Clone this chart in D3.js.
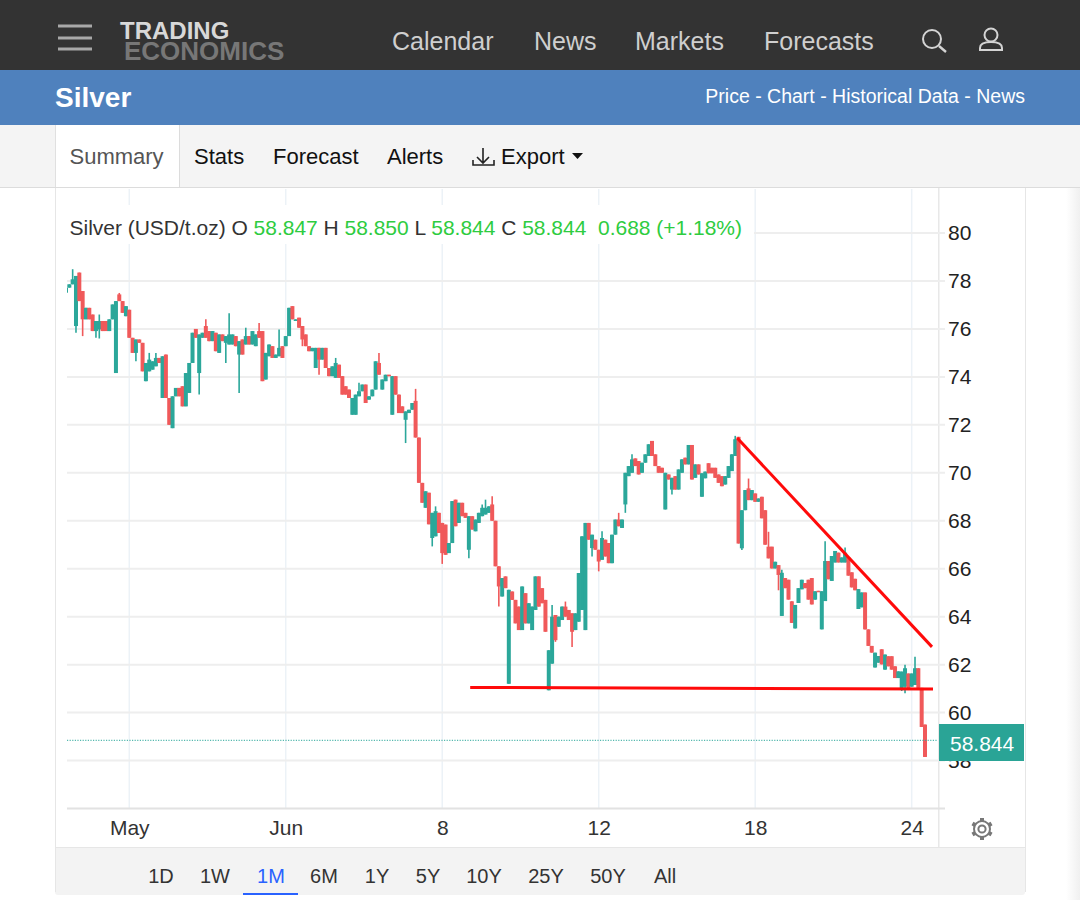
<!DOCTYPE html>
<html>
<head>
<meta charset="utf-8">
<style>
    html, body { margin: 0; padding: 0; background: #fff; }
    svg { display: block; font-family: "Liberation Sans", Arial, sans-serif; }
    text { white-space: pre; }
</style>
</head>
<body>
<svg id="chart" width="1080" height="900"></svg>
<script src="https://d3js.org/d3.v7.min.js"></script>
<script>
    // values, one entry per bar
    var opens = [
        77.51,77.72,77.86,76.12,78.35,77.58,76.4,76.88,76.6,75.91,
        75.98,76.33,76.33,75.91,76.4,74.16,77.44,77.16,76.53,76.8,
        75.63,75.0,75.56,75.42,73.82,74.23,74.3,74.44,74.79,73.12,
        74.93,73.12,71.86,73.19,73.54,73.61,72.77,73.33,74.58,76.0,
        74.16,75.63,76.12,75.91,75.49,75.84,75.0,75.77,75.42,75.35,
        75.35,75.7,74.93,75.56,75.35,75.7,75.35,75.28,75.91,75.91,
        73.89,74.86,75.28,74.79,74.86,75.28,75.28,75.7,76.95,76.33,
        76.47,76.12,75.77,75.28,75.07,74.37,75.21,74.72,75.21,74.37,
        74.03,73.96,74.51,74.03,73.61,73.47,72.42,72.42,73.19,73.4,
        73.68,73.05,73.19,73.47,74.58,73.47,73.82,74.09,72.42,74.03,
        73.26,72.77,72.21,72.49,72.63,73.0,71.47,69.58,68.54,69.17,
        67.28,67.35,68.33,67.91,67.84,66.65,67.07,68.88,67.91,68.75,
        68.33,66.79,68.19,67.56,67.91,68.19,68.26,68.33,68.68,68.0,
        66.1,64.84,65.68,61.2,65.05,64.7,64.42,63.44,64.98,63.72,
        63.44,64.28,65.68,65.19,64.7,60.93,62.04,64.07,63.58,63.86,
        64.42,64.28,64.14,63.44,63.79,64.28,63.44,67.91,66.86,67.21,
        66.79,66.37,67.21,67.07,66.23,67.42,68.05,67.7,68.68,69.86,
        70.0,70.6,70.49,70.0,70.42,70.7,71.33,70.77,70.28,70.21,
        68.47,69.93,69.3,69.86,69.3,70.0,70.63,70.35,71.16,69.79,
        70.35,69.0,69.77,70.4,70.21,70.21,69.93,69.86,69.51,69.79,
        70.07,70.7,71.5,66.85,68.44,69.35,68.86,69.14,68.79,69.0,
        68.44,66.92,66.92,66.01,66.15,64.03,65.61,65.54,64.64,63.51,
        64.57,65.14,65.4,65.54,65.61,64.71,65.08,63.47,64.65,66.32,
        65.49,66.26,66.67,66.26,66.26,66.47,65.85,65.58,64.32,64.39,
        65.01,63.47,62.78,61.88,62.08,62.64,61.79,62.35,62.35,61.93,
        61.44,60.96,61.08,61.63,61.08,61.15,61.85,61.03,59.5
    ];
    var closes = [
        77.72,77.86,78.07,78.21,77.16,76.4,76.88,76.4,75.91,76.33,
        76.33,75.91,75.91,76.4,77.02,77.16,77.16,76.67,76.95,75.63,
        75.0,75.56,75.42,74.23,74.58,74.72,74.65,74.79,74.58,74.86,
        73.12,72.0,73.19,73.54,73.19,72.77,74.16,74.58,75.84,75.63,
        75.77,75.84,75.63,75.49,75.91,75.07,75.77,75.49,75.7,75.77,
        75.77,75.28,75.49,74.93,75.7,75.35,75.91,75.77,75.63,73.82,
        75.0,75.35,74.79,74.93,75.21,74.79,75.7,76.88,76.4,76.4,
        76.05,75.56,75.28,75.07,75.21,75.21,74.72,75.21,74.37,74.03,
        74.44,74.58,73.96,73.26,73.26,73.12,73.12,73.26,73.4,73.68,
        72.91,73.19,73.47,74.65,74.09,73.89,74.09,74.03,74.03,73.26,
        72.49,72.49,72.56,72.63,72.91,71.47,69.58,68.75,69.23,67.85,
        68.33,68.4,67.49,66.65,66.58,67.07,68.82,67.77,68.75,68.19,
        68.12,68.19,67.63,68.05,68.33,68.54,68.54,68.6,68.0,66.1,
        65.26,65.61,65.19,65.12,64.7,63.72,63.44,65.26,63.72,64.56,
        64.42,65.68,64.42,64.56,63.37,62.6,64.0,63.02,64.0,64.42,
        64.0,63.86,63.37,64.14,65.82,67.35,67.91,67.21,67.42,66.79,
        66.3,67.28,66.51,66.23,67.42,68.05,67.77,68.05,70.0,70.28,
        70.56,70.28,69.93,70.42,70.77,71.19,70.7,70.28,70.0,70.0,
        70.0,69.72,69.79,69.3,70.14,70.56,70.35,71.16,69.72,70.35,
        69.93,69.98,70.05,69.98,69.98,69.79,69.58,69.44,69.86,70.28,
        70.77,71.4,67.05,68.44,69.28,68.86,69.28,68.79,68.93,68.1,
        67.0,66.43,66.01,66.29,65.74,65.83,65.19,64.71,63.74,64.49,
        65.19,65.54,65.19,64.71,64.51,65.06,65.06,65.06,66.32,65.56,
        66.53,66.74,66.26,66.47,66.67,65.71,65.22,65.1,65.15,65.01,
        63.47,62.78,62.5,62.5,62.36,62.01,62.42,61.93,61.79,61.44,
        61.72,61.71,61.85,60.94,61.63,61.85,61.03,59.4,58.15
    ];
    // wicks that stick out past the body: [bar, price]
    var highWicks = [[2,78.49],[10,76.6],[16,77.5],[25,75.0],[27,75.0],[42,76.4],[49,76.65],[54,76.05],
        [58,76.25],[64,75.98],[81,74.79],[88,73.75],[94,75.0],[105,73.5],[111,68.6],[125,68.68],
        [126,68.88],[128,69.02],[146,64.49],[150,64.63],[161,67.56],[166,68.33],[170,70.77],[201,71.54],
        [205,69.76],[211,67.54],[215,65.96],[228,67.15],[234,66.88],[252,62.0],[255,62.33]];
    var lowWicks = [[3,75.84],[5,75.7],[9,75.63],[10,75.6],[21,74.65],[40,73.26],[48,74.58],[52,73.33],
        [71,75.28],[76,74.09],[102,71.24],[110,66.93],[113,66.2],[121,66.44],[130,64.42],[147,62.95],
        [152,62.74],[158,66.51],[160,65.89],[168,68.33],[182,69.09],[203,66.78],[214,65.1],[251,60.9],[252,60.81]];

    var yTicks = [56, 58, 60, 62, 64, 66, 68, 70, 72, 74, 76, 78, 80];
    var xTickBars = [19, 66, 113, 160, 207, 254];
    var xTickLabels = ['May', 'Jun', '8', '12', '18', '24'];
    var lastPrice = 58.844;
    // hand drawn lines on the chart: [bar, price] pairs
    var trendDown = [[201.6, 71.45], [260.1, 62.74]];
    var trendFlat = [[121.4, 61.05], [260.4, 60.98]];

    var navItems = [['Calendar', 392], ['News', 534], ['Markets', 635], ['Forecasts', 764]];
    var tabItems = [['Stats', 194], ['Forecast', 273], ['Alerts', 387], ['Export', 501]];
    var rangeItems = [['1D', 161], ['1W', 215], ['1M', 271], ['6M', 324], ['1Y', 377], ['5Y', 428],
        ['10Y', 484], ['25Y', 546], ['50Y', 608], ['All', 665]];
    var legendParts = [['Silver (USD/t.oz) O ', '#333'], ['58.847', '#2ecc40'], [' H ', '#333'], ['58.850', '#2ecc40'],
        [' L ', '#333'], ['58.844', '#2ecc40'], [' C ', '#333'], ['58.844', '#2ecc40'], ['  0.688 (+1.18%)', '#2ecc40']];

    var up = '#2ba79a', down = '#f0595a', grid = '#eeeeee';
    var svg = d3.select('#chart');

    // page furniture
    function box(x, y, w, h, fill) {
        return svg.append('rect').attr('x', x).attr('y', y).attr('width', w).attr('height', h).attr('fill', fill);
    }
    function label(s, x, y, size, fill) {
        return svg.append('text').attr('x', x).attr('y', y).attr('font-size', size).attr('fill', fill).text(s);
    }
    var edge = svg.append('defs').append('linearGradient').attr('id', 'edge');
    edge.append('stop').attr('offset', 0).attr('stop-color', '#ffffff');
    edge.append('stop').attr('offset', 1).attr('stop-color', '#f0f0f0');
    box(1066, 188, 14, 712, 'url(#edge)');

    box(0, 0, 1080, 70, '#333333');
    box(0, 70, 1080, 55, '#4f81bd');
    box(0, 125, 1080, 63, '#f4f4f4');
    box(55, 125, 125, 62, '#ffffff');
    box(179, 125, 1, 62, '#dcdcdc');
    box(55, 125, 1, 62, '#e0e0e0');
    box(0, 187, 1080, 1, '#dcdcdc');
    box(55, 188, 970, 660, '#ffffff');
    svg.append('rect').attr('x', 55).attr('y', 847).attr('width', 970).attr('height', 48).attr('rx', 3)
        .attr('fill', '#f3f3f3');
    box(55, 188, 1, 704, '#e6e6e6');
    box(1025, 188, 1, 704, '#e6e6e6');
    box(938, 188, 1.5, 659, '#e8e8e8');
    box(55, 847, 970, 1, '#e6e6e6');

    svg.append('g').selectAll('rect').data([26, 38, 49]).enter().append('rect')
        .attr('x', 58).attr('y', function (d) { return d - 1.5; }).attr('width', 34).attr('height', 3).attr('fill', '#a8a8a8');
    label('TRADING', 120, 38.5, 24, '#d8d8d8').attr('font-weight', 'bold');
    label('ECONOMICS', 124, 60, 26, '#777777').attr('font-weight', 'bold');
    navItems.forEach(function (d) { label(d[0], d[1], 50, 25, '#cfcfcf'); });

    svg.append('circle').attr('cx', 932).attr('cy', 39).attr('r', 9).attr('fill', 'none').attr('stroke', '#d4d4d4').attr('stroke-width', 2);
    svg.append('path').attr('d', 'M939 46L946 52').attr('stroke', '#d4d4d4').attr('stroke-width', 2.4);
    svg.append('circle').attr('cx', 991).attr('cy', 35).attr('r', 6.5).attr('fill', 'none').attr('stroke', '#d4d4d4').attr('stroke-width', 2);
    svg.append('path').attr('d', 'M980 50v-2c0-4 4-6 11-6s11 2 11 6v2z').attr('fill', 'none').attr('stroke', '#d4d4d4').attr('stroke-width', 2);

    label('Silver', 55, 107, 28, '#ffffff').attr('font-weight', 'bold');
    label('Price - Chart - Historical Data - News', 1025, 103, 19.5, '#ffffff').attr('text-anchor', 'end');

    label('Summary', 69.5, 164, 22, '#555555');
    tabItems.forEach(function (d) { label(d[0], d[1], 164, 22, '#111111'); });
    svg.append('path').attr('d', 'M483 148v15M477 157l6 6 6-6M473 160v5h21v-5').attr('fill', 'none').attr('stroke', '#222').attr('stroke-width', 1.6);
    svg.append('path').attr('d', 'M572 153h11l-5.5 6z').attr('fill', '#111');

    rangeItems.forEach(function (d) {
        label(d[0], d[1], 883, 20, d[0] === '1M' ? '#2962ff' : '#333333').attr('text-anchor', 'middle');
    });
    box(243, 893, 55, 2, '#2962ff');

    // scales
    var x = d3.scaleLinear().domain([0, 258]).range([66, 925]);
    var y = d3.scaleLinear().domain([56, 80]).range([808.5, 233]);

    // grid
    svg.append('g').selectAll('line').data(xTickBars).enter().append('line')
        .attr('x1', function (d) { return x(d); }).attr('x2', function (d) { return x(d); })
        .attr('y1', 189).attr('y2', 808).attr('stroke', '#ecf2f7').attr('stroke-width', 1.5);
    svg.append('g').selectAll('line').data(yTicks).enter().append('line')
        .attr('x1', 67).attr('x2', 945)
        .attr('y1', function (d) { return y(d); }).attr('y2', function (d) { return y(d); })
        .attr('stroke', function (d) { return d === 56 ? '#e2e2e2' : grid; }).attr('stroke-width', 2);

    // axes
    var yAxis = d3.axisRight(y).tickValues(yTicks.slice(1)).tickSize(0).tickPadding(9);
    var gy = svg.append('g').attr('transform', 'translate(939,0)').call(yAxis);
    gy.select('.domain').remove();
    gy.selectAll('text').attr('font-size', 21).attr('font-family', 'Liberation Sans').attr('fill', '#222');

    var xAxis = d3.axisBottom(x).tickValues(xTickBars).tickSize(0).tickPadding(12)
        .tickFormat(function (d, i) { return xTickLabels[i]; });
    var gx = svg.append('g').attr('transform', 'translate(0,808)').call(xAxis);
    gx.select('.domain').remove();
    gx.selectAll('text').attr('font-size', 21).attr('font-family', 'Liberation Sans').attr('fill', '#333');

    // legend sits on a white patch over the grid
    box(66, 205, 688, 39, '#ffffff');
    var legend = svg.append('text').attr('x', 69.5).attr('y', 235).attr('font-size', 21).attr('textLength', 672.5);
    legend.selectAll('tspan').data(legendParts).enter().append('tspan')
        .attr('fill', function (d) { return d[1]; }).text(function (d) { return d[0]; });

    // candles
    svg.append('clipPath').attr('id', 'plot').append('rect').attr('x', 67).attr('y', 189).attr('width', 871).attr('height', 619);
    var highByBar = new Map(highWicks), lowByBar = new Map(lowWicks);
    var bars = d3.range(opens.length);
    function barColor(i) { return closes[i] >= opens[i] ? up : down; }
    var candles = svg.append('g').attr('clip-path', 'url(#plot)').style('filter', 'blur(0.35px)');
    candles.selectAll('line').data(bars).enter().append('line')
        .attr('x1', function (i) { return x(i); }).attr('x2', function (i) { return x(i); })
        .attr('y1', function (i) { return y(highByBar.has(i) ? highByBar.get(i) : Math.max(opens[i], closes[i])); })
        .attr('y2', function (i) { return y(lowByBar.has(i) ? lowByBar.get(i) : Math.min(opens[i], closes[i])); })
        .attr('stroke', barColor).attr('stroke-width', 1.6);
    candles.selectAll('rect').data(bars).enter().append('rect')
        .attr('x', function (i) { return x(i) - 2; }).attr('width', 4)
        .attr('y', function (i) { return y(Math.max(opens[i], closes[i])); })
        .attr('height', function (i) { return Math.max(1.5, Math.abs(y(opens[i]) - y(closes[i]))); })
        .attr('fill', barColor);

    // last price line and flag
    svg.append('line').attr('x1', 67).attr('x2', 938).attr('y1', y(lastPrice)).attr('y2', y(lastPrice))
        .attr('stroke', '#2ba79a').attr('stroke-width', 1).attr('stroke-dasharray', '1.2 1.4');
    box(939, 724, 85, 37, '#2aa496');
    label(d3.format('.3f')(lastPrice), 950, 750.5, 21, '#ffffff');

    // the drawn trend lines
    var lineGen = d3.line().x(function (d) { return x(d[0]); }).y(function (d) { return y(d[1]); });
    svg.append('g').selectAll('path').data([trendDown, trendFlat]).enter().append('path')
        .attr('d', lineGen).attr('fill', 'none').attr('stroke', '#ff0a0a').attr('stroke-width', 3);

    // settings gear
    var gear = svg.append('g').attr('transform', 'translate(982,829)').attr('fill', 'none').attr('stroke', '#777');
    gear.append('circle').attr('r', 8).attr('stroke-width', 2);
    gear.append('circle').attr('r', 3.6).attr('stroke-width', 2);
    gear.selectAll('line').data(d3.range(6)).enter().append('line')
        .attr('y1', -8).attr('y2', -11).attr('stroke-width', 4)
        .attr('transform', function (d) { return 'rotate(' + d * 60 + ')'; });
</script>
</body>
</html>
